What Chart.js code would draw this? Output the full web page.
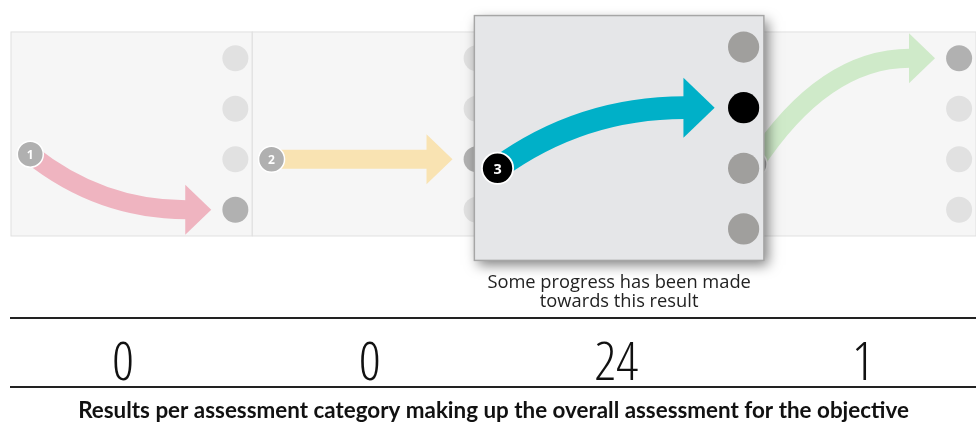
<!DOCTYPE html>
<html>
<head>
<meta charset="utf-8">
<script src="https://cdn.jsdelivr.net/npm/chart.js@4.4.1/dist/chart.umd.min.js"></script>
<style>
  html, body { margin: 0; padding: 0; background: #fff; }
  #wrap { width: 976px; height: 423px; }
</style>
</head>
<body>
<div id="wrap"><canvas id="progressChart"></canvas></div>
<script>
// assessment categories (one panel each) and where the arrow starts / ends
const categories = ['1', '2', '3', '4'];
const levels = [1, 2, 3, 4];
const startLevel = [2.1, 2, 2, 1.9];
const endLevel = [1, 2, 3, 4];
const counts = [0, 0, 24, 1];
const highlighted = 2;
const highlightCaption = ['Some progress has been made', 'towards this result'];
const footerTitle = 'Results per assessment category making up the overall assessment for the objective';

const arrowColors = ['#efb4c0', '#f9e3b2', '#00b0c8', '#cfeac9'];
const zoom = 1.2;

function drawPanel(ctx, xs, ys, i, active) {
    const left = xs.getPixelForValue(i);
    const right = xs.getPixelForValue(i + 1);
    const top = ys.getPixelForValue(4.52);
    const bottom = ys.getPixelForValue(0.48);
    const cx = (left + right) / 2;
    const cy = (top + bottom) / 2;

    ctx.save();
    if (active) {
        ctx.translate(cx + 5, cy + 4);
        ctx.scale(zoom, zoom);
        ctx.translate(-cx, -cy);
        ctx.shadowColor = 'rgba(0,0,0,0.5)';
        ctx.shadowBlur = 12;
        ctx.shadowOffsetX = 4;
        ctx.shadowOffsetY = 5;
    }
    ctx.fillStyle = active ? '#e5e6e8' : '#f6f6f6';
    ctx.fillRect(left, top, right - left, bottom - top);
    ctx.shadowColor = 'transparent';
    ctx.lineWidth = active ? 1.2 : 1;
    ctx.strokeStyle = active ? '#a6a6a6' : '#e0e0e0';
    ctx.strokeRect(left, top, right - left, bottom - top);

    // level circles on the right edge
    levels.forEach(l => {
        ctx.beginPath();
        ctx.arc(xs.getPixelForValue(i + 0.93), ys.getPixelForValue(l), 13, 0, Math.PI * 2);
        if (l === endLevel[i]) {
            ctx.fillStyle = active ? '#000' : '#b1b1b1';
        } else {
            ctx.fillStyle = active ? '#a09f9d' : '#e1e1e1';
        }
        ctx.fill();
    });

    // arrow
    const sx = xs.getPixelForValue(i + 0.08);
    const sy = ys.getPixelForValue(startLevel[i]);
    const tipX = xs.getPixelForValue(i + 0.83);
    const ty = ys.getPixelForValue(endLevel[i]);
    const baseX = tipX - 26;
    ctx.strokeStyle = arrowColors[i];
    ctx.fillStyle = arrowColors[i];
    ctx.lineWidth = 19;
    ctx.beginPath();
    ctx.moveTo(sx, sy);
    ctx.quadraticCurveTo(sx + (baseX - sx) * 0.45, ty, baseX + 1, ty);
    ctx.stroke();
    ctx.beginPath();
    ctx.moveTo(baseX, ty - 25);
    ctx.lineTo(tipX, ty);
    ctx.lineTo(baseX, ty + 25);
    ctx.closePath();
    ctx.fill();

    // numbered start circle
    ctx.beginPath();
    ctx.arc(sx, sy, 13, 0, Math.PI * 2);
    ctx.fillStyle = active ? '#000' : '#b0b0b0';
    ctx.fill();
    ctx.lineWidth = 1.5;
    ctx.strokeStyle = '#fff';
    ctx.stroke();
    ctx.fillStyle = '#fff';
    ctx.font = 'bold 12px "Open Sans"';
    ctx.textAlign = 'center';
    ctx.textBaseline = 'middle';
    ctx.fillText(categories[i], sx, sy + 1);
    ctx.restore();

    if (active) {
        const zBottom = cy + 4 + (bottom - cy) * zoom;
        ctx.save();
        ctx.fillStyle = '#222';
        ctx.font = '18.3px "Open Sans"';
        ctx.textAlign = 'center';
        ctx.textBaseline = 'middle';
        highlightCaption.forEach((line, k) => {
            ctx.fillText(line, cx + 5, zBottom + 22 + k * 19);
        });
        ctx.restore();
    }
}

const panelPlugin = {
    id: 'panels',
    beforeDatasetsDraw(chart) {
        const xs = chart.scales.xPanel;
        const ys = chart.scales.y;
        const order = categories.map((c, i) => i).filter(i => i !== highlighted);
        order.push(highlighted);
        order.forEach(i => drawPanel(chart.ctx, xs, ys, i, i === highlighted));
    }
};

const chart = new Chart(document.getElementById('progressChart'), {
    type: 'scatter',
    data: { datasets: [{ data: [], xAxisID: 'x', yAxisID: 'y' }] },
    options: {
        responsive: true,
        maintainAspectRatio: false,
        animation: false,
        layout: { padding: { left: 11, right: 0, top: 0, bottom: 0 } },
        scales: {
            x: {
                type: 'linear',
                min: 0.046,
                max: 3.958,
                weight: 0,
                grid: { display: false, drawTicks: false },
                border: { display: true, color: '#222', width: 2 },
                afterBuildTicks: (axis) => {
                    axis.ticks = counts.map((c, i) => ({ value: i + 0.5 }));
                },
                afterFit: (axis) => { axis.height = 69; },
                ticks: {
                    autoSkip: false,
                    maxRotation: 0,
                    padding: 20,
                    color: '#111',
                    font: { family: "'Open Sans', sans-serif", size: 54, weight: 'condensed 300', lineHeight: 1 },
                    callback: (v, idx) => String(counts[idx])
                }
            },
            x2: {
                type: 'linear',
                position: 'bottom',
                min: 0,
                max: 4,
                weight: 1,
                grid: { display: false, drawTicks: false },
                border: { display: true, color: '#222', width: 2 },
                ticks: { display: false },
                afterFit: (axis) => { axis.height = 36; },
                title: {
                    display: true,
                    text: footerTitle,
                    color: '#111',
                    font: { family: 'Lato, sans-serif', size: 22.4, weight: 'bold', lineHeight: 1 },
                    padding: { top: 10, bottom: 1.5 }
                }
            },
            xPanel: {
                type: 'linear',
                display: false,
                min: 0,
                max: 4
            },
            y: {
                display: false,
                min: -1.144,
                max: 5.153
            }
        },
        plugins: {
            legend: { display: false },
            tooltip: { enabled: false }
        }
    },
    plugins: [panelPlugin]
});
</script>
</body>
</html>
